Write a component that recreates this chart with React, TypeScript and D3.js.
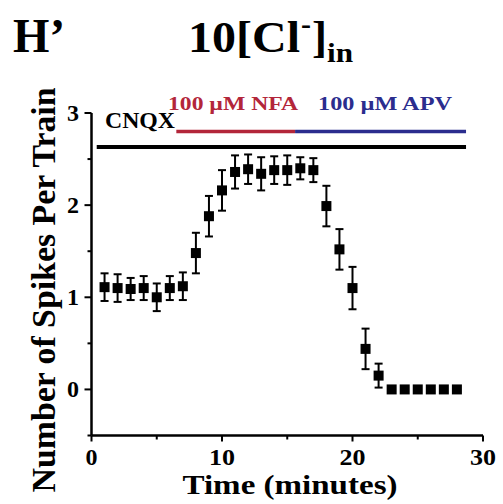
import React from "react";
import * as d3 from "d3";

const minutes = [1,2,3,4,5,6,7,8,9,10,11,12,13,14,15,16,17,18,19,20,21,22,23,24,25,26,27,28];
const spikes = [1.11,1.10,1.09,1.10,1.00,1.10,1.12,1.48,1.88,2.16,2.36,2.39,2.34,2.38,2.38,2.40,2.38,1.99,1.52,1.10,0.44,0.15,0,0,0,0,0,0];
const sem = [0.15,0.15,0.12,0.13,0.15,0.13,0.15,0.22,0.22,0.22,0.18,0.16,0.18,0.15,0.16,0.12,0.13,0.22,0.22,0.23,0.22,0.13,0,0,0,0,0,0];
const xTickMajor = [0,10,20,30];
const xTickMinor = [5,15,25];
const yTickMajor = [0,1,2,3];
const yTickMinor = [-0.5,0.5,1.5,2.5];
const cnqxPeriod = [0.4, 28.7];
const nfaPeriod = [6.5, 15.6];
const apvPeriod = [15.6, 28.7];
const cnqxLevel = 2.63;
const drugLevel = 2.80;

const FONT = "'Liberation Serif', 'Times New Roman', serif";

export default function App() {
  const x = d3.scaleLinear().domain([0, 30]).range([91.5, 483]);
  const y = d3.scaleLinear().domain([-0.5, 3]).range([435.5, 113]);
  const data = minutes.map((m, i) => ({ m, v: spikes[i], e: sem[i] }));
  const red = "#b3263a";
  const blue = "#2b2d8e";
  return (
    <svg width={503} height={504} style={{ position: "absolute", left: 0, top: 0, background: "#fff" }} fontFamily={FONT} fontWeight="bold">
      {/* titles */}
      <text x={13} y={52} fontSize={48} textLength={52} lengthAdjust="spacingAndGlyphs">H’</text>
      <text y={52} fontSize={45}>
        <tspan x={188} textLength={112} lengthAdjust="spacingAndGlyphs">10[Cl</tspan>
        <tspan x={301} y={34} fontSize={30}>-</tspan>
        <tspan x={312} y={52} fontSize={45}>]</tspan>
        <tspan x={327} y={62} fontSize={28} textLength={26} lengthAdjust="spacingAndGlyphs">in</tspan>
      </text>

      {/* axes */}
      <line x1={x(0)} x2={x(0)} y1={y(3)} y2={y(-0.5)} stroke="#000" strokeWidth={2.5} />
      <line x1={x(0)} x2={x(30)} y1={y(-0.5)} y2={y(-0.5)} stroke="#000" strokeWidth={2.5} />
      {yTickMajor.map(t => (
        <g key={"ym" + t}>
          <line x1={x(0) - 7} x2={x(0)} y1={y(t)} y2={y(t)} stroke="#000" strokeWidth={2} />
          <text x={79} y={y(t) + 8} fontSize={24} textAnchor="end">{t}</text>
        </g>
      ))}
      {yTickMinor.map(t => (
        <line key={"yn" + t} x1={x(0) - 4} x2={x(0)} y1={y(t)} y2={y(t)} stroke="#000" strokeWidth={2} />
      ))}
      {xTickMajor.map(t => (
        <g key={"xm" + t}>
          <line x1={x(t)} x2={x(t)} y1={y(-0.5)} y2={y(-0.5) + 6} stroke="#000" strokeWidth={2} />
          <text x={x(t)} y={465} fontSize={23} textAnchor="middle" textLength={t === 0 ? 12 : 26} lengthAdjust="spacingAndGlyphs">{t}</text>
        </g>
      ))}
      {xTickMinor.map(t => (
        <line key={"xn" + t} x1={x(t)} x2={x(t)} y1={y(-0.5)} y2={y(-0.5) + 4} stroke="#000" strokeWidth={2} />
      ))}

      {/* axis labels */}
      <text transform="translate(55,290) rotate(-90)" fontSize={33} textAnchor="middle" textLength={405} lengthAdjust="spacingAndGlyphs">Number of Spikes Per Train</text>
      <text x={290} y={494} fontSize={28} textAnchor="middle" textLength={215} lengthAdjust="spacingAndGlyphs">Time (minutes)</text>

      {/* treatment bars */}
      <line x1={x(cnqxPeriod[0])} x2={x(cnqxPeriod[1])} y1={y(cnqxLevel)} y2={y(cnqxLevel)} stroke="#000" strokeWidth={4} />
      <line x1={x(nfaPeriod[0])} x2={x(nfaPeriod[1])} y1={y(drugLevel)} y2={y(drugLevel)} stroke={red} strokeWidth={3.5} />
      <line x1={x(apvPeriod[0])} x2={x(apvPeriod[1])} y1={y(drugLevel)} y2={y(drugLevel)} stroke={blue} strokeWidth={3.5} />
      <text x={105} y={128} fontSize={23} textLength={70} lengthAdjust="spacingAndGlyphs">CNQX</text>
      <text x={168} y={110} fontSize={19} fill={red} textLength={130} lengthAdjust="spacingAndGlyphs">100 µM NFA</text>
      <text x={318} y={110} fontSize={19} fill={blue} textLength={134} lengthAdjust="spacingAndGlyphs">100 µM APV</text>

      {/* data */}
      {data.map(d => (
        <g key={d.m}>
          {d.e > 0 && (
            <g stroke="#000" strokeWidth={2}>
              <line x1={x(d.m)} x2={x(d.m)} y1={y(d.v - d.e)} y2={y(d.v + d.e)} />
              <line x1={x(d.m) - 4} x2={x(d.m) + 4} y1={y(d.v - d.e)} y2={y(d.v - d.e)} />
              <line x1={x(d.m) - 4} x2={x(d.m) + 4} y1={y(d.v + d.e)} y2={y(d.v + d.e)} />
            </g>
          )}
          <rect x={x(d.m) - 5} y={y(d.v) - 5} width={10} height={10} fill="#000" />
        </g>
      ))}
    </svg>
  );
}
